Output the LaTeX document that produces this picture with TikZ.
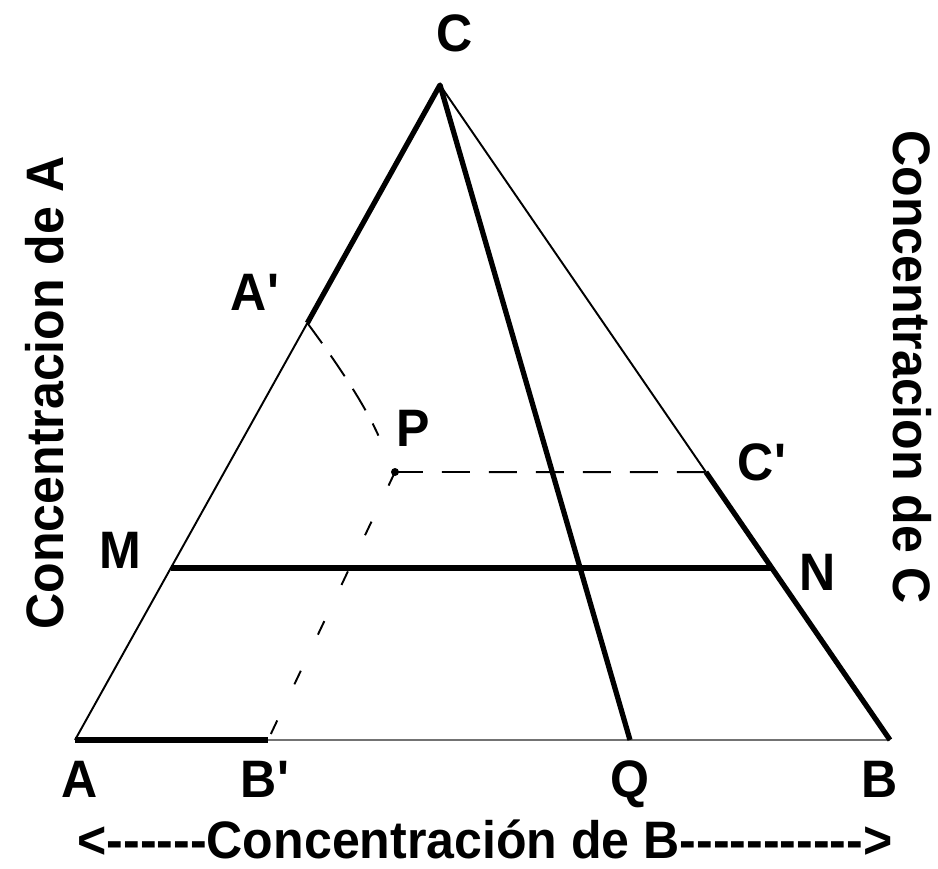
\documentclass[tikz,border=0pt]{standalone}
\usepackage{fontspec}
\newfontfamily\lblfont{Liberation Sans}[FakeStretch=0.95]
\usetikzlibrary{calc}

\begin{document}
\begin{tikzpicture}[x=0.02cm, y=-0.02cm, font=\fontsize{30}{32}\lblfont\bfseries,
    thinln/.style={line width=1.1pt},
    thickln/.style={line width=3pt},
    grayln/.style={line width=1.3pt, black!55},
    lbl/.style={inner sep=0pt},
    baselbl/.style={inner sep=0pt, anchor=base}]
        \useasboundingbox (0,0) rectangle (938,869);
        \coordinate (A) at (75,740);
        \coordinate (B) at (890,740);
        \coordinate (C) at (440,85);
        \coordinate (M) at ($(A)!0.2626!(C)$);
        \coordinate (N) at ($(B)!0.2626!(C)$);
        \coordinate (A1) at ($(A)!0.6366!(C)$);
        \coordinate (C1) at ($(B)!0.409!(C)$);
        \coordinate (B1) at (268,740);
        \coordinate (Q) at (630,740);
        \coordinate (P) at (395,472);
        \draw[thickln] (A) -- (B1);
        \draw[grayln] (B1) -- (B);
        \draw[thinln] (A) -- (A1);
        \draw[thickln, line join=round] (A1) -- (C) -- (Q);
        \draw[thinln] (C) -- (C1);
        \draw[thickln] (C1) -- (B);
        \draw[thickln] (M) -- (N);
        \draw[thinln, dash pattern=on 0.5cm off 0.3cm, shorten >=0.8cm] (A1) to[bend left=6] (P);
        \draw[thinln, dash pattern=on 0.56cm off 0.38cm] (P) -- (C1);
        \draw[thinln, dash pattern=on 0.3cm off 0.8cm] (P) -- (B1);
        \fill (P) circle (4);
        \node[lbl] (lC) at (455,33) {C};
        \node[lbl] (lA1) at (255,292) {A'};
        \node[lbl] (lP) at (413,428) {P};
        \node[lbl] (lC1) at (762,462) {C'};
        \node[lbl] (lM) at (120,550) {M};
        \node[lbl] (lN) at (818,572) {N};
        \node[baselbl] (lA) at (80,797) {A};
        \node[baselbl] (lB1) at (265,797) {B'};
        \node[baselbl] (lQ) at (630,797) {Q};
        \node[baselbl] (lB) at (880,797) {B};
        \node[baselbl] (concB) at (485,858) {<------Concentración de B----------->};
        \node[lbl, rotate=90] (concA) at (45,393) {Concentracion de A};
        \node[lbl, rotate=-90] (concC) at (912,367) {Concentracion de C};
      \end{tikzpicture}
\end{document}
